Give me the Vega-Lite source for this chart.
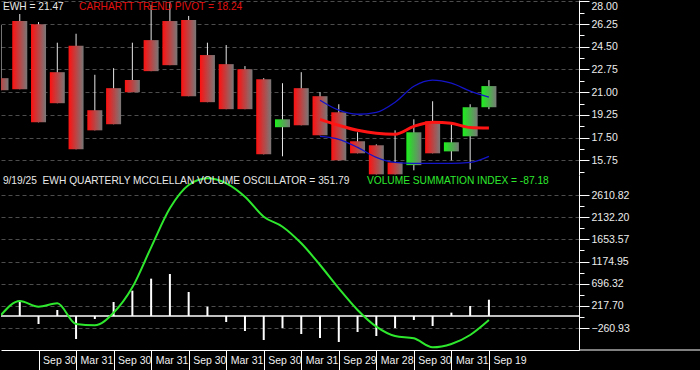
{
  "$schema": "https://vega.github.io/schema/vega-lite/v6.json",
  "background": "#000000",
  "padding": 0,
  "spacing": 0,
  "config": {
    "view": {"stroke": null},
    "font": "Liberation Sans",
    "axis": {"labelFont": "Liberation Sans", "labelFontSize": 10.5, "labelColor": "#ececec", "domainColor": "#ffffff", "tickColor": "#ffffff", "title": null}
  },
  "datasets": {
    "candles": [
      {"q": 0, "date": "2019-03-29", "open": 22.08, "high": 26.17, "low": 21.15, "close": 21.15, "osc": 0, "vsi": 22},
      {"q": 1, "date": "2019-06-28", "open": 26.48, "high": 27.02, "low": 21.23, "close": 21.23, "osc": 309, "vsi": 324},
      {"q": 2, "date": "2019-09-30", "open": 26.23, "high": 26.40, "low": 18.68, "close": 18.68, "osc": -173, "vsi": 201},
      {"q": 3, "date": "2019-12-31", "open": 22.54, "high": 24.81, "low": 20.15, "close": 20.15, "osc": 130, "vsi": 274},
      {"q": 4, "date": "2020-03-31", "open": 24.57, "high": 25.50, "low": 16.60, "close": 16.60, "osc": -497, "vsi": -173},
      {"q": 5, "date": "2020-06-30", "open": 19.61, "high": 22.34, "low": 18.06, "close": 18.06, "osc": -65, "vsi": -201},
      {"q": 6, "date": "2020-09-30", "open": 21.31, "high": 22.85, "low": 18.53, "close": 18.53, "osc": 302, "vsi": 71},
      {"q": 7, "date": "2020-12-31", "open": 21.93, "high": 24.81, "low": 21.00, "close": 21.00, "osc": 547, "vsi": 619},
      {"q": 8, "date": "2021-03-31", "open": 25.01, "high": 27.72, "low": 22.62, "close": 22.62, "osc": 806, "vsi": 1483},
      {"q": 9, "date": "2021-06-30", "open": 26.48, "high": 27.95, "low": 23.08, "close": 23.08, "osc": 907, "vsi": 2325},
      {"q": 10, "date": "2021-09-30", "open": 26.56, "high": 26.87, "low": 20.69, "close": 20.69, "osc": 518, "vsi": 2828},
      {"q": 11, "date": "2021-12-31", "open": 23.86, "high": 24.81, "low": 20.23, "close": 20.23, "osc": 201, "vsi": 2973},
      {"q": 12, "date": "2022-03-31", "open": 23.16, "high": 24.63, "low": 19.69, "close": 19.69, "osc": -130, "vsi": 2865},
      {"q": 13, "date": "2022-06-30", "open": 22.77, "high": 23.01, "low": 19.69, "close": 19.69, "osc": -324, "vsi": 2576},
      {"q": 14, "date": "2022-09-30", "open": 22.00, "high": 22.08, "low": 16.21, "close": 16.21, "osc": -518, "vsi": 2144},
      {"q": 15, "date": "2022-12-30", "open": 18.30, "high": 21.69, "low": 16.06, "close": 18.91, "osc": -259, "vsi": 1928},
      {"q": 16, "date": "2023-03-31", "open": 21.31, "high": 22.54, "low": 18.45, "close": 18.45, "osc": -389, "vsi": 1569},
      {"q": 17, "date": "2023-06-30", "open": 20.69, "high": 21.00, "low": 17.68, "close": 17.68, "osc": -475, "vsi": 1101},
      {"q": 18, "date": "2023-09-29", "open": 19.45, "high": 20.07, "low": 15.75, "close": 15.75, "osc": -561, "vsi": 597},
      {"q": 19, "date": "2023-12-29", "open": 17.22, "high": 17.91, "low": 16.29, "close": 16.29, "osc": -345, "vsi": 130},
      {"q": 20, "date": "2024-03-28", "open": 16.91, "high": 16.98, "low": 14.67, "close": 14.67, "osc": -432, "vsi": -230},
      {"q": 21, "date": "2024-06-28", "open": 15.59, "high": 18.06, "low": 14.67, "close": 14.67, "osc": -259, "vsi": -432},
      {"q": 22, "date": "2024-09-30", "open": 15.38, "high": 18.91, "low": 14.98, "close": 17.91, "osc": -86, "vsi": -482},
      {"q": 23, "date": "2024-12-31", "open": 18.76, "high": 20.30, "low": 16.29, "close": 16.29, "osc": -216, "vsi": -677},
      {"q": 24, "date": "2025-03-31", "open": 16.44, "high": 18.53, "low": 15.75, "close": 17.14, "osc": 72, "vsi": -605},
      {"q": 25, "date": "2025-06-30", "open": 17.60, "high": 20.07, "low": 15.05, "close": 19.84, "osc": 216, "vsi": -410},
      {"q": 26, "date": "2025-09-19", "open": 19.84, "high": 21.93, "low": 19.69, "close": 21.47, "osc": 351.79, "vsi": -87.18}
    ],
    "bands": [
      {"q": 17, "upper": 20.38, "pivot": 18.91, "lower": 17.60},
      {"q": 18, "upper": 19.61, "pivot": 18.45, "lower": 17.37},
      {"q": 19, "upper": 19.30, "pivot": 18.06, "lower": 16.75},
      {"q": 20, "upper": 19.45, "pivot": 17.83, "lower": 15.98},
      {"q": 21, "upper": 20.23, "pivot": 17.76, "lower": 15.59},
      {"q": 22, "upper": 21.46, "pivot": 18.37, "lower": 15.52},
      {"q": 23, "upper": 21.93, "pivot": 18.68, "lower": 15.52},
      {"q": 24, "upper": 21.69, "pivot": 18.60, "lower": 15.52},
      {"q": 25, "upper": 21.08, "pivot": 18.28, "lower": 15.59},
      {"q": 26, "upper": 20.61, "pivot": 18.24, "lower": 16.06}
    ]
  },
  "vconcat": [
    {
      "width": 578,
      "height": 175,
      "resolve": {"axis": {"y": "independent"}},
      "layer": [
        {
          "data": {"name": "candles"},
          "mark": {"type": "rule", "color": "#e6e6e6", "strokeWidth": 1, "clip": true},
          "encoding": {
            "x": {"field": "q", "type": "quantitative", "scale": {"domain": [0, 30.8], "nice": false, "zero": false, "padding": 0}, "axis": null},
            "y": {
              "field": "low", "type": "quantitative",
              "scale": {"domain": [14.62, 28.1], "nice": false, "zero": false, "padding": 0},
              "axis": {
                "orient": "right", "title": null,
                "values": [15.75, 17.5, 19.25, 21, 22.75, 24.5, 26.25, 28],
                "format": ".2f", "tickSize": 10,
                "grid": true, "gridColor": "#4d4d4d", "gridDash": [4, 3],
                "labelPadding": 2, "labelFlush": 3, "labelOverlap": false, "labelColor": "#ececec", "labelFontSize": 10.5
              }
            },
            "y2": {"field": "high"}
          }
        },
        {
          "data": {"name": "candles"},
          "transform": [{"filter": "datum.close < datum.open"}],
          "mark": {"type": "bar", "width": 15, "clip": true, "stroke": null,
            "fill": {"gradient": "linear", "x1": 0, "y1": 0, "x2": 1, "y2": 0, "stops": [{"offset": 0, "color": "#ff1010"}, {"offset": 1, "color": "#787878"}]}},
          "encoding": {
            "x": {"field": "q", "type": "quantitative"},
            "y": {"field": "open", "type": "quantitative",
              "axis": {"orient": "right", "title": null, "values": [14.875, 16.625, 18.375, 20.125, 21.875, 23.625, 25.375, 27.125], "labels": false, "grid": false, "domain": false, "tickSize": 5}},
            "y2": {"field": "close"}
          }
        },
        {
          "data": {"name": "candles"},
          "transform": [{"filter": "datum.close >= datum.open"}],
          "mark": {"type": "bar", "width": 15, "clip": true, "stroke": null,
            "fill": {"gradient": "linear", "x1": 0, "y1": 0, "x2": 1, "y2": 0, "stops": [{"offset": 0, "color": "#1cf01c"}, {"offset": 1, "color": "#787878"}]}},
          "encoding": {
            "x": {"field": "q", "type": "quantitative"},
            "y": {"field": "open", "type": "quantitative", "axis": null},
            "y2": {"field": "close"}
          }
        },
        {
          "data": {"name": "bands"},
          "mark": {"type": "line", "color": "#1414c8", "strokeWidth": 1.3, "interpolate": "monotone"},
          "encoding": {
            "x": {"field": "q", "type": "quantitative"},
            "y": {"field": "upper", "type": "quantitative", "axis": null}
          }
        },
        {
          "data": {"name": "bands"},
          "mark": {"type": "line", "color": "#1414c8", "strokeWidth": 1.3, "interpolate": "monotone"},
          "encoding": {
            "x": {"field": "q", "type": "quantitative"},
            "y": {"field": "lower", "type": "quantitative", "axis": null}
          }
        },
        {
          "data": {"name": "bands"},
          "mark": {"type": "line", "color": "#ff1414", "strokeWidth": 3, "interpolate": "monotone"},
          "encoding": {
            "x": {"field": "q", "type": "quantitative"},
            "y": {"field": "pivot", "type": "quantitative", "axis": null}
          }
        },
        {
          "data": {"values": [{}]},
          "mark": {"type": "text", "text": "EWH = 21.47", "align": "left", "baseline": "middle", "color": "#e8e8e8", "fontSize": 10.2, "font": "Liberation Sans"},
          "encoding": {
            "x": {"datum": 0.1, "type": "quantitative"},
            "y": {"datum": 27.56, "type": "quantitative", "axis": null}
          }
        },
        {
          "data": {"values": [{}]},
          "mark": {"type": "text", "text": "CARHARTT TREND PIVOT = 18.24", "align": "left", "baseline": "middle", "color": "#e01010", "fontSize": 10.2, "font": "Liberation Sans"},
          "encoding": {
            "x": {"datum": 4.16, "type": "quantitative"},
            "y": {"datum": 27.56, "type": "quantitative", "axis": null}
          }
        }
      ]
    },
    {
      "width": 578,
      "height": 175,
      "resolve": {"axis": {"y": "independent", "x": "independent"}},
      "layer": [
        {
          "data": {"name": "candles"},
          "mark": {"type": "rule", "color": "#ffffff", "strokeWidth": 2, "clip": true},
          "encoding": {
            "x": {
              "field": "q", "type": "quantitative",
              "scale": {"domain": [0, 30.8], "nice": false, "zero": false, "padding": 0},
              "axis": {
                "orient": "bottom", "title": null,
                "values": [2, 4, 6, 8, 10, 12, 14, 16, 18, 20, 22, 24, 26],
                "labels": false, "tickSize": 20, "tickColor": "#ffffff", "domainColor": "#ffffff", "grid": false
              }
            },
            "y": {
              "field": "osc", "type": "quantitative",
              "scale": {"domain": [-734, 3044], "nice": false, "zero": false, "padding": 0},
              "axis": {
                "orient": "right", "title": null,
                "values": [-260.93, 217.7, 696.32, 1174.95, 1653.57, 2132.2, 2610.82],
                "format": ".2f", "tickSize": 10,
                "grid": true, "gridColor": "#4d4d4d", "gridDash": [4, 3],
                "labelPadding": 2, "labelOverlap": false, "labelColor": "#ececec", "labelFontSize": 10.5
              }
            },
            "y2": {"datum": 0}
          }
        },
        {
          "data": {"values": [{}]},
          "mark": {"type": "rule", "color": "#ffffff", "strokeWidth": 1.5},
          "encoding": {
            "y": {"datum": 0, "type": "quantitative",
              "axis": {"orient": "right", "title": null, "values": [-21.615, 457.01, 935.635, 1414.26, 1892.885, 2371.51], "labels": false, "grid": false, "domain": false, "tickSize": 5}}
          }
        },
        {
          "data": {"values": [{}]},
          "mark": {"type": "rule", "color": "#ffffff", "strokeWidth": 1},
          "encoding": {
            "x": {"datum": 30.8, "type": "quantitative", "axis": null},
            "x2": {"datum": 37.5},
            "y": {"datum": -734, "type": "quantitative", "axis": null}
          }
        },
        {
          "data": {"name": "candles"},
          "mark": {"type": "line", "color": "#2ee82e", "strokeWidth": 2, "interpolate": "monotone", "clip": true},
          "encoding": {
            "x": {"field": "q", "type": "quantitative",
              "axis": {
                "orient": "bottom", "title": null,
                "values": [2, 4, 6, 8, 10, 12, 14, 16, 18, 20, 22, 24, 26],
                "labelExpr": "datum.value == 18 ? 'Sep 29' : datum.value == 20 ? 'Mar 28' : datum.value == 26 ? 'Sep 19' : datum.value % 4 == 2 ? 'Sep 30' : 'Mar 31'",
                "ticks": false, "domain": false, "grid": false,
                "labelAlign": "left", "labelBaseline": "top", "labelPadding": 5, "labelOffset": 4,
                "labelColor": "#f0f0f0", "labelFontSize": 10.5, "labelOverlap": false, "labelFlush": false
              }},
            "y": {"field": "vsi", "type": "quantitative", "axis": null}
          }
        },
        {
          "data": {"values": [{}]},
          "mark": {"type": "text", "text": "9/19/25\u00a0 EWH QUARTERLY MCCLELLAN VOLUME OSCILLATOR = 351.79", "align": "left", "baseline": "middle", "color": "#e8e8e8", "fontSize": 10.2, "font": "Liberation Sans"},
          "encoding": {
            "x": {"datum": 0.1, "type": "quantitative", "axis": null},
            "y": {"datum": 2915, "type": "quantitative", "axis": null}
          }
        },
        {
          "data": {"values": [{}]},
          "mark": {"type": "text", "text": "VOLUME SUMMATION INDEX = -87.18", "align": "left", "baseline": "middle", "color": "#2ee82e", "fontSize": 10.2, "font": "Liberation Sans"},
          "encoding": {
            "x": {"datum": 19.5, "type": "quantitative", "axis": null},
            "y": {"datum": 2915, "type": "quantitative", "axis": null}
          }
        }
      ]
    }
  ]
}
